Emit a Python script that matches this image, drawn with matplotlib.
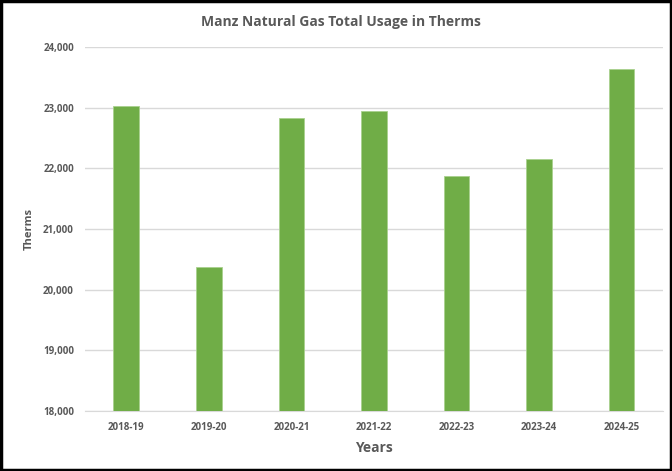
import matplotlib
matplotlib.use("Agg")
import matplotlib.pyplot as plt
from matplotlib.patches import Rectangle
from matplotlib.ticker import FuncFormatter

years = ["2018-19", "2019-20", "2020-21", "2021-22", "2022-23", "2023-24", "2024-25"]
therms = [23025, 20380, 22825, 22950, 21875, 22150, 23640]

plt.rcParams['font.family'] = ['Open Sans', 'DejaVu Sans']
txt = "#595959"

fig = plt.figure(figsize=(6.72, 4.71), dpi=100)
ax = fig.add_axes([0.1265, 0.1274, 0.86, 0.7728])

x = range(len(years))
ax.bar(x, therms, width=0.31, color="#70AD47", edgecolor="#A9D18E", linewidth=0.6, zorder=3)
ax.set_ylim(18000, 24000)
ax.set_xlim(-0.5, len(years) - 0.5)
ax.set_yticks(range(18000, 24001, 1000))
ax.yaxis.set_major_formatter(FuncFormatter(lambda v, p: f"{int(v):,}"))
ax.set_xticks(list(x))
ax.set_xticklabels(years)
ax.grid(axis="y", color="#D9D9D9", linewidth=1, zorder=0)
for s in ["top", "right", "left"]:
    ax.spines[s].set_visible(False)
ax.spines["bottom"].set_color("#D9D9D9")
ax.tick_params(axis="both", length=0, labelsize=7, colors=txt, pad=8)
for lbl in ax.get_xticklabels() + ax.get_yticklabels():
    lbl.set_fontweight("bold")

ax.set_xlabel("Years", fontsize=10, fontweight="bold", color=txt, labelpad=6)
ax.set_ylabel("Therms", fontsize=8, fontweight="bold", color=txt, labelpad=6)
fig.text(0.508, 0.953, "Manz Natural Gas Total Usage in Therms", ha="center", va="center",
         fontsize=10, fontweight="bold", color=txt)

fig.patches.append(Rectangle((0.002, 0.003), 0.996, 0.994, transform=fig.transFigure,
                             fill=False, edgecolor="black", linewidth=2.5))

fig.savefig("out.png", dpi=100)
